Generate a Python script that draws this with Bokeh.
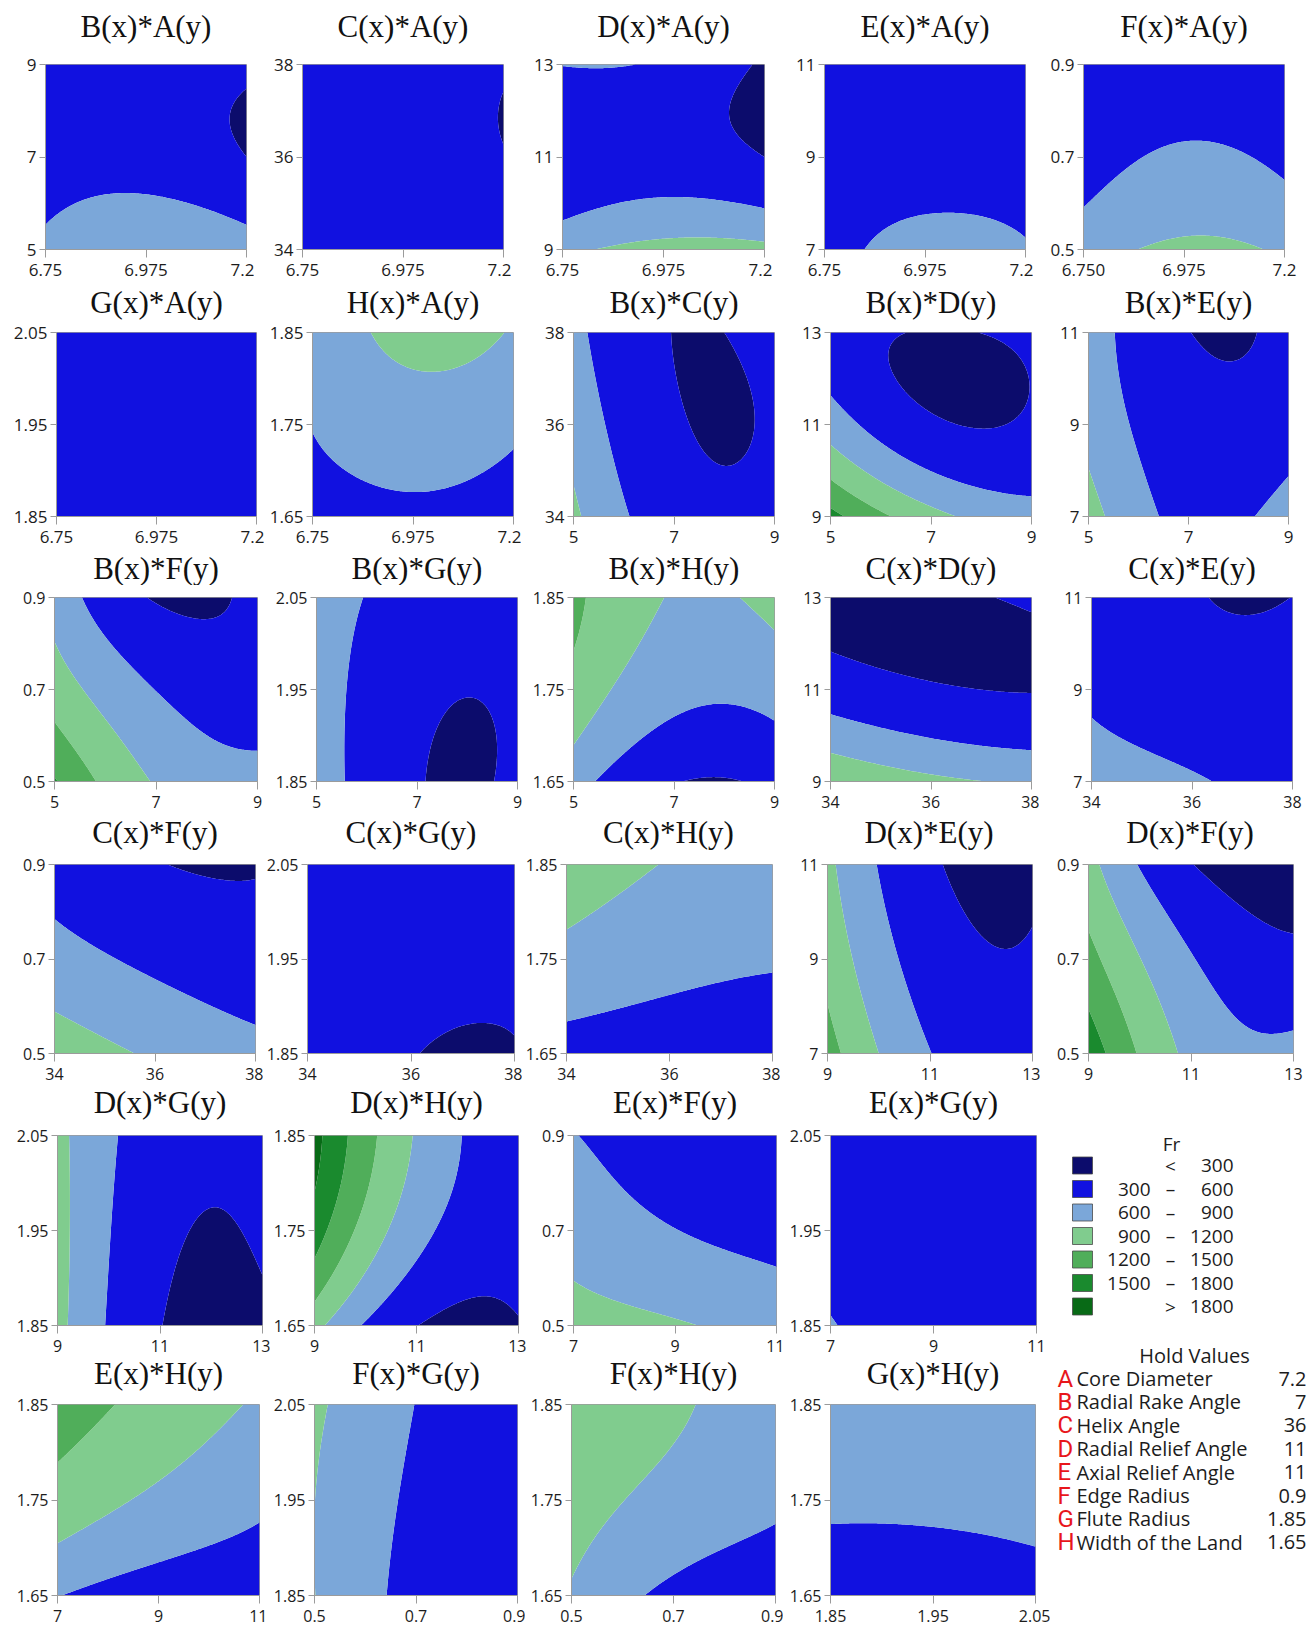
import numpy as np
from bokeh.plotting import figure
from bokeh.layouts import row, column
from bokeh.models import FixedTicker, Range1d, CustomJSTickFormatter
from bokeh.core.properties import value
from bokeh.embed import file_html
from bokeh.resources import INLINE

# ---------------- factor settings ----------------
factor_low = {"A": 6.75, "B": 5, "C": 34, "D": 9, "E": 7, "F": 0.5, "G": 1.85, "H": 1.65}
factor_high = {"A": 7.2, "B": 9, "C": 38, "D": 13, "E": 11, "F": 0.9, "G": 2.05, "H": 1.85}
factor_ticks = {
    "A": ["6.75", "6.975", "7.2"],
    "B": ["5", "7", "9"],
    "C": ["34", "36", "38"],
    "D": ["9", "11", "13"],
    "E": ["7", "9", "11"],
    "F": ["0.5", "0.7", "0.9"],
    "G": ["1.85", "1.95", "2.05"],
    "H": ["1.65", "1.75", "1.85"],
}

fr_levels = [300, 600, 900, 1200, 1500, 1800]
fr_colors = ["#0c0c6c", "#1111e0", "#7ba7d9", "#80cc8e", "#50ae5a", "#1a8a2e", "#086a16"]

legend_lo = ["", "300", "600", "900", "1200", "1500", ""]
legend_sym = ["<", "\u2013", "\u2013", "\u2013", "\u2013", "\u2013", ">"]
legend_hi = ["300", "600", "900", "1200", "1500", "1800", "1800"]

hold_letters = ["A", "B", "C", "D", "E", "F", "G", "H"]
hold_names = ["Core Diameter", "Radial Rake Angle", "Helix Angle", "Radial Relief Angle",
              "Axial Relief Angle", "Edge Radius", "Flute Radius", "Width of the Land"]
hold_values = ["7.2", "7", "36", "11", "11", "0.9", "1.85", "1.65"]


# ---------------- Fr readings ----------------
# 3x3 readings at coded levels: rows = y high / mid / low, columns = x low / mid / high
def grid_points(g):
    out = []
    for r, v in zip(g, (1, 0, -1)):
        for val, u in zip(r, (-1, 0, 1)):
            out.append((u, v, val))
    return out


fr_BA = grid_points([[500, 470, 372], [470, 480, 300], [680, 900, 782]])
fr_CA = grid_points([[470, 440, 330], [470, 440, 311], [560, 590, 530]])
fr_DA = grid_points([[610, 560, 250], [360, 440, 300], [820, 1000, 980]])
fr_EA = grid_points([[450, 450, 420], [430, 440, 420], [400, 760, 640]])
fr_FA = grid_points([[330, 435, 330], [450, 642, 530], [770, 949, 860]])
fr_GA = grid_points([[450, 460, 440], [450, 460, 440], [460, 470, 450]])
fr_HA = grid_points([[640, 990, 870], [610, 765, 657], [430, 540, 444]])
fr_BC = grid_points([[685, 296, 436], [800, 330, 340], [960, 430, 424]])
fr_BD = grid_points([[430, 287, 378], [760, 340, 340], [1600, 1000, 720]])
fr_BG = grid_points([[780, 470, 450], [760, 360, 350], [782, 316, 354]])
fr_CE = grid_points([[560, 318, 302], [560, 420, 400], [760, 630, 470]])
fr_CF = grid_points([[486, 311, 290], [713, 540, 420], [1080, 860, 700]])
fr_CG = grid_points([[520, 490, 470], [510, 400, 360], [560, 310, 290]])
fr_DF = grid_points([[1000, 310, 200], [1300, 620, 360], [1700, 830, 700]])
fr_DH = grid_points([[1900, 872, 420], [1650, 700, 420], [1000, 305, 280]])
fr_EF = grid_points([[610, 450, 380], [794, 605, 520], [1000, 930, 760]])
fr_EG = grid_points([[520, 480, 450], [540, 470, 440], [610, 500, 460]])

# contour-crossing readings (coded x, coded y, Fr)
fr_BE = [(0.08, 1, 300), (0.73, 1, 300), (0.39, 0.60, 300), (0.2, 0.78, 300), (0.62, 0.78, 300),
         (-0.74, 1, 600), (-0.6, 0.0, 600), (-0.35, -1, 600), (0.55, -1, 600), (1, -0.6, 600), (0.82, -0.85, 600),
         (-1, -0.465, 900), (-0.82, -1, 900),
         (0.2, 0, 400), (1, 1, 390), (1, 0, 470), (0, -1, 520)]
fr_BF = [(0.075, 1, 300), (0.74, 1, 300), (0.45, 0.667, 300), (0.2, 0.8, 300), (0.68, 0.8, 300),
         (0.45, 0.9, 240),
         (-0.72, 1, 600), (-0.383, 0.42, 600), (0.033, -0.05, 600), (0.45, -0.41, 600), (0.825, -0.68, 600),
         (1, -0.66, 600),
         (-1, 0.44, 900), (-0.55, -0.19, 900), (-0.067, -1, 900),
         (-1, -0.32, 1200), (-0.817, -0.66, 1200), (-0.59, -1, 1200),
         (-1, -0.95, 1500),
         (1, 1, 400), (1, 0, 430)]
fr_BH = [(-0.88, 1, 1200), (-1, 0.35, 1200), (-0.95, 0.7, 1200),
         (-0.11, 1, 900), (-0.5, 0.1, 900), (-1, -0.55, 900), (-0.3, 0.5, 900),
         (0.70, 1, 900), (1, 0.60, 900), (0.85, 0.8, 900),
         (-0.75, -1, 600), (-0.35, -0.5, 600), (0.3, -0.16, 600), (1, -0.32, 600), (0.7, -0.2, 600),
         (-0.05, -0.3, 600),
         (0.08, -1, 300), (0.63, -1, 300), (0.35, -0.95, 300),
         (0.3, 0.4, 750)]
fr_CD = [(-1, 0.46, 300), (-0.52, 0.31, 300), (-0.02, 0.17, 300), (0.48, 0.02, 300), (1, -0.03, 300),
         (0.65, 1, 300), (1, 0.82, 300), (0.85, 0.92, 300),
         (-1, -0.30, 600), (-0.5, -0.45, 600), (0, -0.58, 600), (0.5, -0.64, 600), (1, -0.66, 600),
         (-1, -0.68, 900), (-0.5, -0.8, 900), (0, -0.9, 900), (0.65, -1, 900),
         (0, 0.8, 200), (-1, 1, 220)]
fr_CH = [(-0.16, 1, 900), (-1, 0.25, 900), (-0.6, 0.65, 900),
         (-1, -0.63, 600), (-0.5, -0.48, 600), (0, -0.37, 600), (0.5, -0.22, 600), (0.9, -0.14, 600),
         (1, -0.14, 600),
         (1, 1, 780), (0.3, 0.5, 790), (1, -1, 400), (-1, -1, 480), (0, -1, 440)]
fr_DE = [(0.2, 1, 300), (0.4, 0.5, 300), (0.615, -0.035, 300), (0.8, 0.2, 300), (1, 0.48, 300),
         (-0.57, 1, 600), (-0.3, 0, 600), (0.0, -1, 600),
         (-0.9, 1, 900), (-0.75, 0, 900), (-0.53, -1, 900),
         (-1, -0.51, 1200), (-0.88, -1, 1200), (-1, -1, 1350),
         (1, -1, 400), (0.5, -1, 480), (0.7, 0.7, 230), (1, 1, 250)]
fr_DG = [(0.043, -1, 300), (0.25, -0.2, 300), (0.485, 0.41, 300), (0.75, -0.05, 300), (1, -0.52, 300),
         (-0.43, 1, 600), (-0.48, 0, 600), (-0.54, -1, 600),
         (-0.88, 1, 900), (-0.88, 0, 900), (-0.9, -1, 900),
         (1, 1, 400), (0.5, 1, 370), (1, 0, 340), (0.5, -0.8, 200)]
fr_EH = [(-0.43, 1, 1200), (-1, 0.34, 1200), (-0.7, 0.7, 1200),
         (0.84, 1, 900), (0.4, 0.55, 900), (-0.01, 0.17, 900), (-1, -0.42, 900),
         (-0.93, -1, 600), (-0.01, -0.66, 600), (0.5, -0.45, 600), (1, -0.25, 600),
         (1, -1, 480), (-1, 1, 1300)]
fr_FG = [(-0.87, 1, 900), (-0.93, 0.6, 900), (-1, 0.13, 900),
         (-0.016, 1, 600), (-0.2, 0, 600), (-0.29, -1, 600),
         (1, 0, 400), (1, 1, 420), (1, -1, 380), (0.5, 0, 450), (-0.6, 0, 750)]
fr_FH = [(0.22, 1, 900), (-0.4, 0.1, 900), (-1, -0.83, 900),
         (-0.29, -1, 600), (0.35, -0.59, 600), (0.7, -0.4, 600), (1, -0.25, 600),
         (1, 1, 720), (-1, 1, 1100), (1, -1, 450)]
fr_GH = [(-1, -0.25, 600), (-0.5, -0.25, 600), (0, -0.28, 600), (0.5, -0.36, 600), (1, -0.49, 600),
         (0, 1, 780), (0, -1, 480), (-1, 1, 790), (1, 1, 770), (-1, -1, 490), (1, -1, 510)]

# panels: (title, x-axis factor, y-axis factor, readings[, x tick labels])
panel_rows = [
    [("B(x)*A(y)", "A", "B", fr_BA), ("C(x)*A(y)", "A", "C", fr_CA), ("D(x)*A(y)", "A", "D", fr_DA),
     ("E(x)*A(y)", "A", "E", fr_EA), ("F(x)*A(y)", "A", "F", fr_FA, ["6.750", "6.975", "7.2"])],
    [("G(x)*A(y)", "A", "G", fr_GA), ("H(x)*A(y)", "A", "H", fr_HA), ("B(x)*C(y)", "B", "C", fr_BC),
     ("B(x)*D(y)", "B", "D", fr_BD), ("B(x)*E(y)", "B", "E", fr_BE)],
    [("B(x)*F(y)", "B", "F", fr_BF), ("B(x)*G(y)", "B", "G", fr_BG), ("B(x)*H(y)", "B", "H", fr_BH),
     ("C(x)*D(y)", "C", "D", fr_CD), ("C(x)*E(y)", "C", "E", fr_CE)],
    [("C(x)*F(y)", "C", "F", fr_CF), ("C(x)*G(y)", "C", "G", fr_CG), ("C(x)*H(y)", "C", "H", fr_CH),
     ("D(x)*E(y)", "D", "E", fr_DE), ("D(x)*F(y)", "D", "F", fr_DF)],
    [("D(x)*G(y)", "D", "G", fr_DG), ("D(x)*H(y)", "D", "H", fr_DH), ("E(x)*F(y)", "E", "F", fr_EF),
     ("E(x)*G(y)", "E", "G", fr_EG)],
    [("E(x)*H(y)", "E", "H", fr_EH), ("F(x)*G(y)", "F", "G", fr_FG), ("F(x)*H(y)", "F", "H", fr_FH),
     ("G(x)*H(y)", "G", "H", fr_GH)],
]

# ---------------- layout (page pixels) ----------------
row_layout = [
    dict(top=64, bottom=249, end=279, title_y=26, font="17px",
         xs=[(45, 246), (302, 503), (562, 764), (824, 1025), (1083, 1284)]),
    dict(top=332, bottom=516, end=546, title_y=302, font="17px",
         xs=[(56, 256), (312, 513), (573, 774), (830, 1031), (1088, 1288)]),
    dict(top=597, bottom=781, end=811, title_y=568, font="16px",
         xs=[(54, 257), (316, 517), (573, 774), (830, 1031), (1091, 1292)]),
    dict(top=864, bottom=1053, end=1083, title_y=832, font="16px",
         xs=[(54, 255), (307, 514), (565, 771), (826, 1031), (1087, 1292)]),
    dict(top=1135, bottom=1325, end=1355, title_y=1102, font="16px",
         xs=[(57, 262), (314, 518), (573, 776), (830, 1036)]),
    dict(top=1404, bottom=1595, end=1625, title_y=1373, font="16px",
         xs=[(57, 259), (314, 517), (571, 775), (830, 1035)]),
]
FULL_RIGHT = 1312
LEGEND_LEFT = 1050
TOP_PAD = 12
GRAY = "#9b9b9b"


def basis(u, v):
    return np.stack([np.ones_like(u), u, v, u * u, u * v, v * v, u * u * v, u * v * v, u * u * v * v], axis=-1)


def fit_surface(points):
    pts = np.asarray(points, dtype=float)
    A = basis(pts[:, 0], pts[:, 1])
    b = pts[:, 2]
    ridge = np.zeros((3, 9))
    ridge[0, 6] = ridge[1, 7] = ridge[2, 8] = 0.1
    A2 = np.vstack([A, ridge])
    b2 = np.concatenate([b, np.zeros(3)])
    coef, *_ = np.linalg.lstsq(A2, b2, rcond=None)
    return coef


def style_axis(ax, labels, tick_out, standoff, size):
    ax.formatter = CustomJSTickFormatter(args=dict(labels=labels), code="return labels[index];")
    ax.axis_line_color = GRAY
    ax.major_tick_line_color = GRAY
    ax.major_tick_out = tick_out
    ax.major_tick_in = 0
    ax.minor_tick_line_color = None
    ax.major_label_text_font = "Open Sans"
    ax.major_label_text_font_size = size
    ax.major_label_text_color = "#1c1c1c"
    ax.major_label_standoff = standoff


def make_panel(spec, fw, fh, mbl, mbr, mbt, mbb, size):
    title, xf, yf, pts = spec[:4]
    xlabels = spec[4] if len(spec) > 4 else factor_ticks[xf]
    x0, x1 = factor_low[xf], factor_high[xf]
    y0, y1 = factor_low[yf], factor_high[yf]
    p = figure(frame_width=fw, frame_height=fh, min_border_left=mbl, min_border_right=mbr,
               min_border_top=mbt, min_border_bottom=mbb,
               x_range=Range1d(x0, x1), y_range=Range1d(y0, y1),
               output_backend="svg", toolbar_location=None, tools="")
    coef = fit_surface(pts)
    g = np.linspace(-1, 1, 161)
    U, V = np.meshgrid(g, g)
    Z = basis(U, V) @ coef
    xs = x0 + (g + 1) / 2 * (x1 - x0)
    ys = y0 + (g + 1) / 2 * (y1 - y0)
    lv = [min(Z.min(), 0) - 1] + fr_levels + [max(Z.max(), 2000) + 1]
    p.contour(x=xs, y=ys, z=Z, levels=lv, fill_color=fr_colors)

    p.xaxis.ticker = FixedTicker(ticks=[x0, (x0 + x1) / 2, x1])
    p.yaxis.ticker = FixedTicker(ticks=[y0, (y0 + y1) / 2, y1])
    style_axis(p.xaxis[0], xlabels, 8, 6, size)
    style_axis(p.yaxis[0], factor_ticks[yf], 6, 3, size)
    p.xgrid.visible = False
    p.ygrid.visible = False
    p.outline_line_color = GRAY
    p.outline_line_width = 1
    p.background_fill_color = "white"
    p.border_fill_color = "white"
    return p


def make_strip(specs, cfg, y_top, y_bottom, width):
    """Thin band holding the panel titles of one row (page pixel coordinates)."""
    s = figure(frame_width=width, frame_height=y_bottom - y_top, min_border=0,
               x_range=Range1d(0, width), y_range=Range1d(y_bottom, y_top),
               output_backend="svg", toolbar_location=None, tools="", x_axis_type=None, y_axis_type=None)
    s.outline_line_color = None
    s.grid.visible = False
    s.background_fill_color = "white"
    s.border_fill_color = "white"
    centers = [(L + R) / 2 for (L, R) in cfg["xs"]]
    s.text(x=centers, y=[cfg["title_y"]] * len(specs), text=[sp[0] for sp in specs],
           text_align="center", text_baseline="middle", text_font=value("Liberation Serif"),
           text_font_size=value("31px"), text_color="#111111")
    return s


def build_row(specs, cfg, start_y, right_end):
    figs = []
    prev = 0
    n = len(specs)
    for i, spec in enumerate(specs):
        L, R = cfg["xs"][i]
        mbr = 8 if i < n - 1 else right_end - R
        p = make_panel(spec, R - L, cfg["bottom"] - cfg["top"], L - prev, mbr, cfg["top"] - start_y,
                       cfg["end"] - cfg["bottom"], cfg["font"])
        prev = R + mbr
        figs.append(p)
    return row(*figs)


blocks = []
start = 0
for r, (specs, cfg) in enumerate(zip(panel_rows, row_layout)):
    right_end = FULL_RIGHT if r < 4 else LEGEND_LEFT
    strip_bottom = cfg["top"] - TOP_PAD
    blocks.append(make_strip(specs, cfg, start, strip_bottom, right_end))
    blocks.append(build_row(specs, cfg, strip_bottom, right_end))
    start = cfg["end"]

# ---------------- legend / hold values panel ----------------
leg_top = row_layout[3]["end"]
leg_bottom = row_layout[5]["end"]
lg = figure(frame_width=FULL_RIGHT - LEGEND_LEFT, frame_height=leg_bottom - leg_top, min_border=0,
            x_range=Range1d(LEGEND_LEFT, FULL_RIGHT), y_range=Range1d(leg_bottom, leg_top),
            output_backend="svg", toolbar_location=None, tools="", x_axis_type=None, y_axis_type=None)
lg.outline_line_color = None
lg.grid.visible = False
lg.background_fill_color = "white"
lg.border_fill_color = "white"

sw_y = [1165 + 23.5 * i for i in range(len(fr_colors))]
txt = dict(text_baseline="middle", text_font=value("Open Sans"), text_font_size=value("19px"),
           text_color="#1c1c1c")
lg.text(x=[1171], y=[1143], text=["Fr"], text_align="center", **txt)
lg.rect(x=[1082] * len(fr_colors), y=sw_y, width=20, height=17, fill_color=fr_colors,
        line_color="#4a4a4a", line_width=0.8)
lg.text(x=[1150] * 7, y=sw_y, text=legend_lo, text_align="right", **txt)
lg.text(x=[1170] * 7, y=sw_y, text=legend_sym, text_align="center", **txt)
lg.text(x=[1233] * 7, y=sw_y, text=legend_hi, text_align="right", **txt)

txt2 = dict(txt, text_font_size=value("20px"))
hv_y = [1378 + 23.4 * i for i in range(len(hold_letters))]
lg.text(x=[1194], y=[1355], text=["Hold Values"], text_align="center", **txt2)
lg.text(x=[1057] * 8, y=hv_y, text=hold_letters, text_align="left", text_baseline="middle",
        text_font=value("Roboto"), text_font_size=value("24px"), text_color="#e8161b")
lg.text(x=[1076] * 8, y=hv_y, text=hold_names, text_align="left", **txt2)
lg.text(x=[1306] * 8, y=hv_y, text=hold_values, text_align="right", **txt2)

top_part = column(*blocks[:8])
bottom_left = column(*blocks[8:])
layout = column(top_part, row(bottom_left, lg))

open("out.html", "w").write(file_html(layout, INLINE, "Fr contour profiler"))
